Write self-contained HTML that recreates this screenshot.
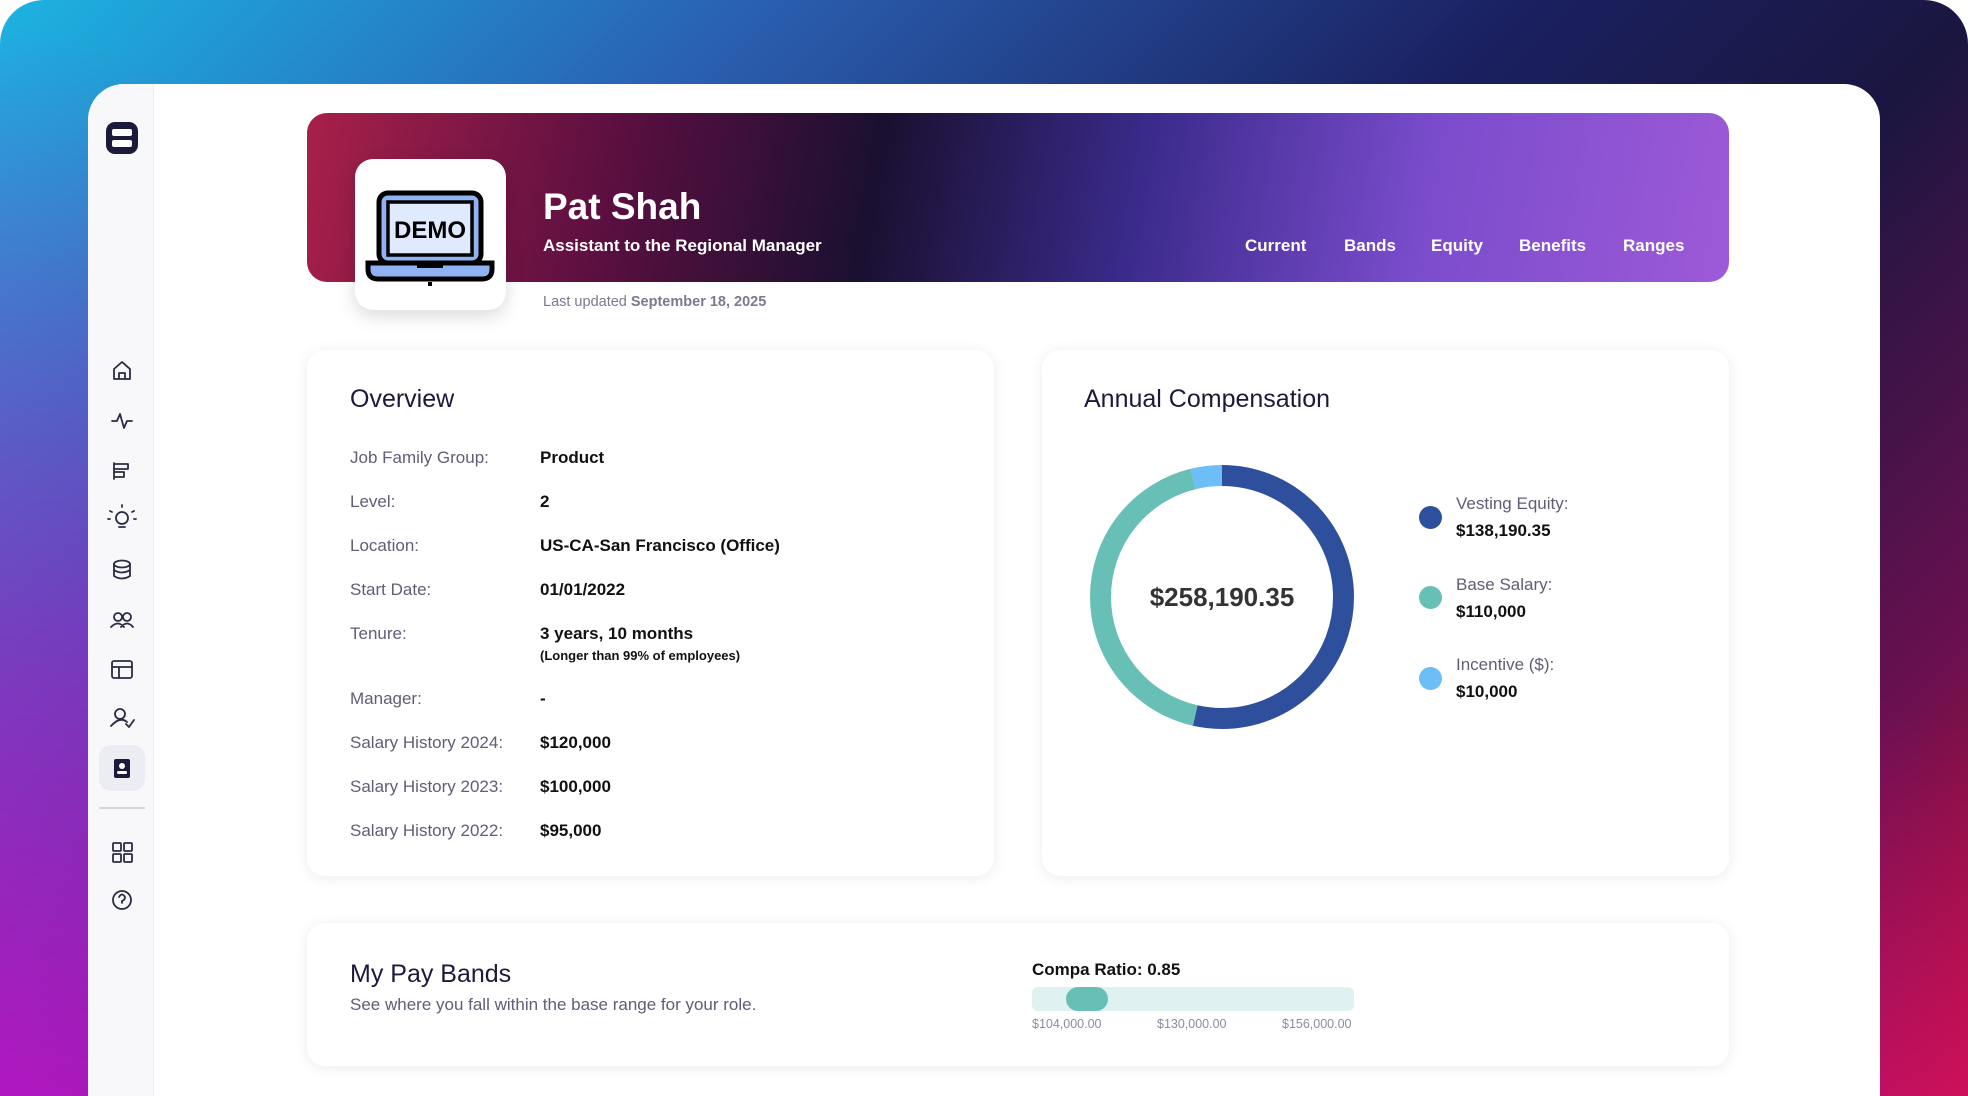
<!DOCTYPE html>
<html style="overflow:hidden;width:1968px;height:1096px"><head><meta charset="utf-8"><style>
*{margin:0;padding:0;box-sizing:border-box}
body{width:1968px;height:1096px;overflow:hidden;position:relative;font-family:"Liberation Sans",sans-serif;background:#fff}
.bg{position:absolute;left:0;top:0;width:1968px;height:1096px;border-radius:44px 44px 0 0;overflow:hidden;
background:linear-gradient(135deg,#1cb4e2 0%,#2a5fb0 25%,#1a2060 50%,#1a1640 65%,#6a1050 85%,#d0102a 100%);}
.bgl{position:absolute;left:0;top:0;width:1968px;height:1096px;background:linear-gradient(200deg,rgba(0,0,0,0) 40%,rgba(200,16,200,0.85) 100%);}
.panel{position:absolute;left:88px;top:84px;width:1792px;height:1012px;background:#fff;border-radius:36px 36px 0 0;overflow:hidden}
.side{position:absolute;left:0;top:0;width:66px;height:100%;background:#f8f8fb;border-right:1px solid #eceef3}
.ab{position:absolute}
.card{position:absolute;background:#fff;border-radius:18px;box-shadow:0 2px 14px rgba(20,20,60,0.08)}
.t{position:absolute;white-space:nowrap}
.lab{color:#5f5e75;font-size:17px}
.val{color:#111;font-size:17px;font-weight:bold}
</style></head><body>
<div class="bg"><div class="bgl"></div></div>
<div class="panel">
 <div class="side"></div>
</div>
<!-- sidebar icons -->
<div class="ab" style="left:106px;top:122px;width:32px;height:32px;background:#1c1a3a;border-radius:9px"></div>
<div class="ab" style="left:112px;top:129px;width:20px;height:7px;background:#fff;border-radius:2px"></div>
<div class="ab" style="left:112px;top:140px;width:20px;height:7px;background:#fff;border-radius:2px"></div>
<svg class="ab" style="left:0;top:0" width="160" height="920" fill="none" stroke="#2a2a44" stroke-width="1.8" stroke-linecap="round" stroke-linejoin="round">
 <path d="M114 379 L114 369 L122 362 L130 369 L130 379 Z M119 379 L119 373 L125 373 L125 379"/>
 <path d="M112 421 L117 421 L120 414 L124 428 L127 421 L132 421"/>
 <path d="M114 463 L114 479 M114 464 L128 464 L128 469 L114 469 M114 472 L124 472 L124 477 L114 477"/>
 <circle cx="122" cy="518" r="6"/><path d="M119 527 L125 527 M122 507 L122 505 M112 512 L110 511 M132 512 L134 511 M110 519 L108 519 M134 519 L136 519"/>
 <ellipse cx="122" cy="564" rx="8" ry="3.5"/><path d="M114 564 L114 576 Q122 581 130 576 L130 564 M114 570 Q122 575 130 570"/>
 <circle cx="118" cy="617" r="4"/><circle cx="127" cy="617" r="4"/><path d="M111 627 Q118 620 124 627 M121 627 Q127 620 133 627"/>
 <rect x="112" y="661" width="20" height="17" rx="2"/><path d="M112 667 L132 667 M119 667 L119 678"/>
 <circle cx="120" cy="714" r="5"/><path d="M111 726 Q120 716 127 722 M126 724 L129 727 L134 720"/>
 <rect x="113" y="843" width="8" height="8" rx="1"/><rect x="124" y="843" width="8" height="8" rx="1"/><rect x="113" y="854" width="8" height="8" rx="1"/><rect x="124" y="854" width="8" height="8" rx="1"/>
 <circle cx="122" cy="900" r="9"/><path d="M119 897 Q122 892 125 897 Q125 900 122 901 L122 903"/>
</svg>
<div class="ab" style="left:99px;top:745px;width:46px;height:46px;background:#ecedf3;border-radius:12px"></div>
<div class="ab" style="left:114px;top:759px;width:16px;height:19px;background:#1c1a3a;border-radius:2px"></div>
<div class="ab" style="left:119px;top:763px;width:6px;height:6px;background:#fff;border-radius:50%"></div>
<div class="ab" style="left:117px;top:771px;width:10px;height:3px;background:#fff;border-radius:2px"></div>
<div class="ab" style="left:99px;top:807px;width:46px;height:2px;background:#d5d6de"></div>

<!-- banner -->
<div class="ab" style="left:307px;top:113px;width:1422px;height:169px;border-radius:20px;background:linear-gradient(100deg,#a8204a 0%,#5a0f40 22%,#1a1030 40%,#3a2a8a 58%,#7a4ccc 78%,#9e5ad8 100%)"></div>
<div class="ab" style="left:355px;top:159px;width:151px;height:151px;background:#fff;border-radius:18px;box-shadow:0 6px 18px rgba(0,0,0,0.15)"></div>
<svg class="ab" style="left:355px;top:159px" width="151" height="151">
 <rect x="24" y="34" width="102" height="70" rx="9" fill="#8fb2f2" stroke="#000" stroke-width="5"/>
 <rect x="33" y="43" width="84" height="53" fill="#dfeafe" stroke="#000" stroke-width="3.5"/>
 <text x="75" y="79" text-anchor="middle" font-family="Liberation Sans" font-weight="bold" font-size="24" fill="#000">DEMO</text>
 <path d="M13 104 L137 104 L137 110 Q137 120 127 120 L23 120 Q13 120 13 110 Z" fill="#8fb2f2" stroke="#000" stroke-width="5"/>
 <rect x="62" y="102" width="26" height="7" fill="#000"/>
 <rect x="73" y="123" width="4" height="4" fill="#000"/>
</svg>
<div class="t" style="left:543px;top:186px;color:#fff;font-size:37px;font-weight:bold">Pat Shah</div>
<div class="t" style="left:543px;top:236px;color:#fff;font-size:17px;font-weight:bold">Assistant to the Regional Manager</div>
<div class="t" style="left:1245px;top:236px;color:#fff;font-size:17px;font-weight:bold">Current</div>
<div class="t" style="left:1344px;top:236px;color:#fff;font-size:17px;font-weight:bold">Bands</div>
<div class="t" style="left:1431px;top:236px;color:#fff;font-size:17px;font-weight:bold">Equity</div>
<div class="t" style="left:1519px;top:236px;color:#fff;font-size:17px;font-weight:bold">Benefits</div>
<div class="t" style="left:1623px;top:236px;color:#fff;font-size:17px;font-weight:bold">Ranges</div>
<div class="t" style="left:543px;top:294px;color:#7a7990;font-size:14.5px">Last updated <b>September 18, 2025</b></div>

<!-- overview -->
<div class="card" style="left:307px;top:350px;width:687px;height:526px"></div>
<div class="t" style="left:350px;top:385px;color:#1c1a3a;font-size:25px">Overview</div>
<div class="t lab" style="left:350px;top:448px">Job Family Group:</div><div class="t val" style="left:540px;top:448px">Product</div>
<div class="t lab" style="left:350px;top:492px">Level:</div><div class="t val" style="left:540px;top:492px">2</div>
<div class="t lab" style="left:350px;top:536px">Location:</div><div class="t val" style="left:540px;top:536px">US-CA-San Francisco (Office)</div>
<div class="t lab" style="left:350px;top:580px">Start Date:</div><div class="t val" style="left:540px;top:580px">01/01/2022</div>
<div class="t lab" style="left:350px;top:624px">Tenure:</div><div class="t val" style="left:540px;top:624px">3 years, 10 months</div>
<div class="t" style="left:540px;top:648px;font-size:13px;font-weight:bold;color:#111">(Longer than 99% of employees)</div>
<div class="t lab" style="left:350px;top:689px">Manager:</div><div class="t val" style="left:540px;top:689px">-</div>
<div class="t lab" style="left:350px;top:733px">Salary History 2024:</div><div class="t val" style="left:540px;top:733px">$120,000</div>
<div class="t lab" style="left:350px;top:777px">Salary History 2023:</div><div class="t val" style="left:540px;top:777px">$100,000</div>
<div class="t lab" style="left:350px;top:821px">Salary History 2022:</div><div class="t val" style="left:540px;top:821px">$95,000</div>

<!-- annual comp -->
<div class="card" style="left:1042px;top:350px;width:687px;height:526px"></div>
<div class="t" style="left:1084px;top:385px;color:#1c1a3a;font-size:25px">Annual Compensation</div>
<svg class="ab" style="left:1082px;top:457px" width="280" height="280">
 <g transform="rotate(-90 140 140)" fill="none" stroke-width="21">
  <circle cx="140" cy="140" r="121.5" stroke="#2e4f9c" stroke-dasharray="408.6 1000"/>
  <circle cx="140" cy="140" r="121.5" stroke="#67bfb6" stroke-dasharray="0 408.6 325.2 1000"/>
  <circle cx="140" cy="140" r="121.5" stroke="#6dbdf7" stroke-dasharray="0 733.8 29.6 1000"/>
 </g>
 <text x="140" y="149" text-anchor="middle" font-family="Liberation Sans" font-weight="bold" font-size="26" fill="#333">$258,190.35</text>
</svg>
<div class="ab" style="left:1419px;top:506px;width:23px;height:23px;border-radius:50%;background:#2e4f9c"></div>
<div class="ab" style="left:1419px;top:586px;width:23px;height:23px;border-radius:50%;background:#67bfb6"></div>
<div class="ab" style="left:1419px;top:667px;width:23px;height:23px;border-radius:50%;background:#6dbdf7"></div>
<div class="t lab" style="left:1456px;top:494px">Vesting Equity:</div><div class="t val" style="left:1456px;top:521px">$138,190.35</div>
<div class="t lab" style="left:1456px;top:575px">Base Salary:</div><div class="t val" style="left:1456px;top:602px">$110,000</div>
<div class="t lab" style="left:1456px;top:655px">Incentive ($):</div><div class="t val" style="left:1456px;top:682px">$10,000</div>

<!-- pay bands -->
<div class="card" style="left:307px;top:923px;width:1422px;height:143px"></div>
<div class="t" style="left:350px;top:960px;color:#1c1a3a;font-size:25px">My Pay Bands</div>
<div class="t" style="left:350px;top:995px;color:#5f5e75;font-size:17px">See where you fall within the base range for your role.</div>
<div class="t" style="left:1032px;top:960px;color:#111;font-size:17px;font-weight:bold">Compa Ratio: 0.85</div>
<div class="ab" style="left:1032px;top:987px;width:322px;height:24px;background:#dff1f0;border-radius:6px"></div>
<div class="ab" style="left:1066px;top:987px;width:42px;height:24px;background:#67bfb6;border-radius:12px"></div>
<div class="t" style="left:1032px;top:1017px;color:#8c8ba0;font-size:12.5px">$104,000.00</div>
<div class="t" style="left:1157px;top:1017px;color:#8c8ba0;font-size:12.5px">$130,000.00</div>
<div class="t" style="left:1282px;top:1017px;color:#8c8ba0;font-size:12.5px">$156,000.00</div>
</body></html>
